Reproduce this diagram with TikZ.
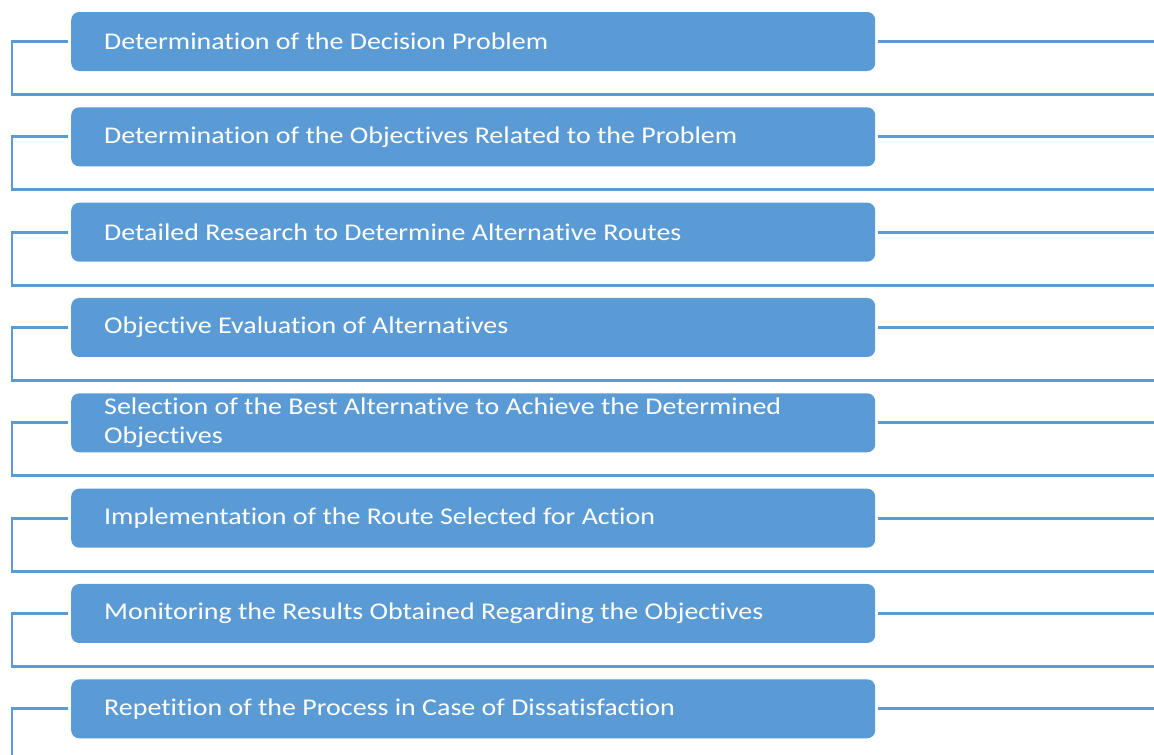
\documentclass[tikz,border=0pt]{standalone}
\usepackage{fontspec}
\setmainfont{Carlito}[FakeStretch=1.165,Ligatures=NoCommon]
\definecolor{blu}{HTML}{5B9BD5}
\begin{document}
\begin{tikzpicture}[x=1pt,y=-1pt,
  box/.style={fill=blu, draw=none, rounded corners=8pt, minimum width=804pt, minimum height=59pt, anchor=west, inner sep=0pt},
  lbl/.style={text=white, anchor=west, align=left, inner sep=0pt, font=\fontsize{24}{29.3}\selectfont},
  conn/.style={draw=blu, line width=2.8pt}]
\useasboundingbox (0,0) rectangle (1154,755);
\foreach \i/\t in {1/{Determination of the Decision Problem},
  2/{Determination of the Objectives Related to the Problem},
  3/{Detailed Research to Determine Alternative Routes},
  4/{Objective Evaluation of Alternatives},
  5/{Selection of the Best Alternative to Achieve the Determined\\Objectives},
  6/{Implementation of the Route Selected for Action},
  7/{Monitoring the Results Obtained Regarding the Objectives},
  8/{Repetition of the Process in Case of Dissatisfaction}}{
  \pgfmathsetmacro\yc{41.5+(\i-1)*95.33}
  \node[box] (b\i) at (71,\yc) {};
  \node[lbl] (t\i) at (104,\yc) {\t};
  \coordinate (ls\i) at (68,\yc);
  \coordinate (lc\i) at (12,\yc);
  \coordinate (rs\i) at (878,\yc);
  \coordinate (re\i) at (1155,\yc);
  \draw[conn] (rs\i) -- (re\i);
}
\foreach \i in {1,...,7}{
  \pgfmathsetmacro\yb{41.5+(\i-1)*95.33+53}
  \coordinate (lb\i) at (12,\yb);
  \coordinate (rb\i) at (1155,\yb);
  \draw[conn] (ls\i) -- (lc\i) -- (lb\i) -- (rb\i);
}
\coordinate (lb8) at (12,756);
\draw[conn] (ls8) -- (lc8) -- (lb8);
\end{tikzpicture}
\end{document}
